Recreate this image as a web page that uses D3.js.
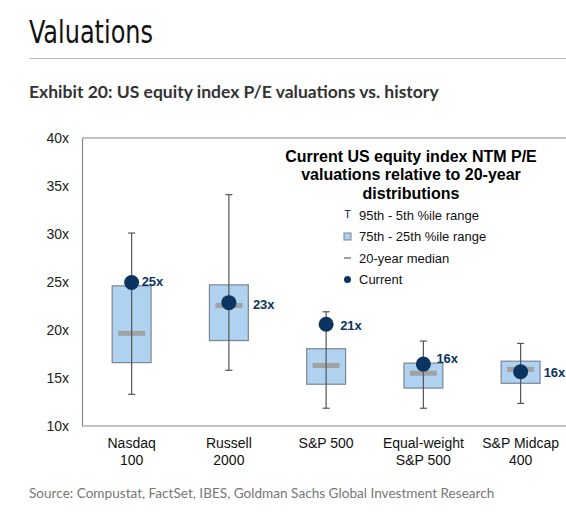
<!DOCTYPE html>
<html>
<head>
<meta charset="utf-8">
<script src="https://cdn.jsdelivr.net/npm/d3@7"></script>
<style>
  body { margin: 0; background: #fff; }
  svg { display: block; }
</style>
</head>
<body>
<svg id="chart" width="566" height="520"></svg>
<script>
// values (P/E multiples)
let categories = [['Nasdaq', '100'], ['Russell', '2000'], ['S&P 500'], ['Equal-weight', 'S&P 500'], ['S&P Midcap', '400']]
let p95 = [30.1, 34.1, 21.9, 18.85, 18.6]
let p5 = [13.3, 15.8, 11.85, 11.85, 12.35]
let p75 = [24.6, 24.7, 18.05, 16.55, 16.75]
let p25 = [16.6, 18.9, 14.35, 13.95, 14.45]
let medians = [19.65, 22.55, 16.3, 15.5, 15.9]
let current = [24.95, 22.85, 20.6, 16.45, 15.65]
let currentLabels = ['25x', '23x', '21x', '16x', '16x']
let yTicks = [10, 15, 20, 25, 30, 35, 40]

let legendTitle = ['Current US equity index NTM P/E', 'valuations relative to 20-year', 'distributions']
let legendItems = ['95th - 5th %ile range', '75th - 25th %ile range', '20-year median', 'Current']

let svg = d3.select('#chart')
let arial = 'Liberation Sans, Arial, sans-serif'
let navy = '#0c3461'

// header
svg.append('text')
    .attr('x', 29).attr('y', 43)
    .attr('font-family', 'DejaVu Sans Condensed, Liberation Sans, sans-serif')
    .attr('font-stretch', 'condensed')
    .attr('font-size', 32)
    .attr('textLength', 124)
    .attr('lengthAdjust', 'spacingAndGlyphs')
    .attr('fill', '#111')
    .text('Valuations')

svg.append('line')
    .attr('x1', 29).attr('x2', 566)
    .attr('y1', 58.5).attr('y2', 58.5)
    .attr('stroke', '#bdbdbd')

svg.append('text')
    .attr('x', 29).attr('y', 98)
    .attr('font-family', 'Lato, sans-serif')
    .attr('font-weight', 'bold')
    .attr('font-size', 17.5)
    .attr('fill', '#333')
    .text('Exhibit 20: US equity index P/E valuations vs. history')

svg.append('text')
    .attr('x', 29).attr('y', 498)
    .attr('font-family', 'Lato, sans-serif')
    .attr('font-size', 13.6)
    .attr('fill', '#777')
    .text('Source: Compustat, FactSet, IBES, Goldman Sachs Global Investment Research')

// scales
let y = d3.scaleLinear().domain([10, 40]).range([426, 138])
let x = d3.scaleBand()
    .domain(d3.range(categories.length))
    .range([83, 83 + 97.25 * categories.length])
let cx = (i) => x(i) + x.bandwidth() / 2
let boxW = x.step() * 0.4
let medW = 27

// frame
svg.append('path')
    .attr('d', `M580,${y(40)}H82.5V${y(10)}H580`)
    .attr('fill', 'none')
    .attr('stroke', '#8a8a8a')
    .attr('stroke-width', 1.2)

// y axis labels
let yAxis = svg.append('g')
    .attr('transform', 'translate(69,0)')
    .call(d3.axisLeft(y).tickValues(yTicks).tickSize(0).tickPadding(0).tickFormat((d) => d + 'x'))
yAxis.select('.domain').remove()
yAxis.selectAll('text')
    .attr('font-family', arial)
    .attr('font-size', 14)
    .attr('fill', '#222')

// category labels
let cats = svg.append('g')
categories.forEach((lines, i) => {
    lines.forEach((t, j) => {
        cats.append('text')
            .attr('x', cx(i))
            .attr('y', 448 + j * 17)
            .attr('text-anchor', 'middle')
            .attr('font-family', arial)
            .attr('font-size', 14)
            .attr('fill', '#111')
            .text(t)
    })
})

let idx = d3.range(categories.length)
let marks = svg.append('g')

// boxes (75th - 25th)
marks.selectAll('rect.box')
    .data(idx)
    .enter()
    .append('rect')
    .attr('class', 'box')
    .attr('x', (i) => cx(i) - boxW / 2)
    .attr('width', boxW)
    .attr('y', (i) => y(p75[i]))
    .attr('height', (i) => y(p25[i]) - y(p75[i]))
    .attr('fill', '#aed2f0')
    .attr('stroke', '#7d8590')
    .attr('stroke-width', 1.2)

// medians
marks.selectAll('line.median')
    .data(idx)
    .enter()
    .append('line')
    .attr('class', 'median')
    .attr('x1', (i) => cx(i) - medW / 2)
    .attr('x2', (i) => cx(i) + medW / 2)
    .attr('y1', (i) => y(medians[i]))
    .attr('y2', (i) => y(medians[i]))
    .attr('stroke', '#a2a2a2')
    .attr('stroke-width', 5)

// whiskers (95th - 5th)
let whisk = marks.selectAll('g.whisker')
    .data(idx)
    .enter()
    .append('g')
    .attr('class', 'whisker')
    .attr('stroke', '#555')
    .attr('stroke-width', 1.2)
whisk.append('line')
    .attr('x1', (i) => cx(i)).attr('x2', (i) => cx(i))
    .attr('y1', (i) => y(p95[i])).attr('y2', (i) => y(p5[i]))
whisk.append('line')
    .attr('x1', (i) => cx(i) - 3.5).attr('x2', (i) => cx(i) + 3.5)
    .attr('y1', (i) => y(p95[i])).attr('y2', (i) => y(p95[i]))
whisk.append('line')
    .attr('x1', (i) => cx(i) - 3.5).attr('x2', (i) => cx(i) + 3.5)
    .attr('y1', (i) => y(p5[i])).attr('y2', (i) => y(p5[i]))

// current dots
marks.selectAll('circle.current')
    .data(idx)
    .enter()
    .append('circle')
    .attr('class', 'current')
    .attr('cx', (i) => cx(i))
    .attr('cy', (i) => y(current[i]))
    .attr('r', 7.5)
    .attr('fill', navy)

// label placement tweaks, as in the original
let labelDx = [10, 24, 14, 13, 23]
let labelDy = [-1.5, 1.5, 1.5, -5.5, 0.5]
marks.selectAll('text.current')
    .data(idx)
    .enter()
    .append('text')
    .attr('class', 'current')
    .attr('x', (i) => cx(i) + labelDx[i])
    .attr('y', (i) => y(current[i]) + labelDy[i])
    .attr('dy', '0.35em')
    .attr('font-family', arial)
    .attr('font-weight', 'bold')
    .attr('font-size', 13)
    .attr('fill', navy)
    .text((i) => currentLabels[i])

// legend
let legend = svg.append('g')
legend.selectAll('text.title')
    .data(legendTitle)
    .enter()
    .append('text')
    .attr('class', 'title')
    .attr('x', 411)
    .attr('y', (d, i) => 162 + i * 18.3)
    .attr('text-anchor', 'middle')
    .attr('font-family', arial)
    .attr('font-weight', 'bold')
    .attr('font-size', 16)
    .attr('fill', '#000')
    .text((d) => d)

let rowY = (i) => 215 + i * 21.5
legend.selectAll('text.item')
    .data(legendItems)
    .enter()
    .append('text')
    .attr('class', 'item')
    .attr('x', 359)
    .attr('y', (d, i) => rowY(i))
    .attr('dy', '0.35em')
    .attr('font-family', arial)
    .attr('font-size', 13)
    .attr('fill', '#111')
    .text((d) => d)

// legend symbols
legend.append('text')
    .attr('x', 347.5).attr('y', rowY(0) - 1)
    .attr('text-anchor', 'middle')
    .attr('dy', '0.35em')
    .attr('font-family', arial)
    .attr('font-size', 11)
    .attr('fill', '#2a1030')
    .text('T')
legend.append('rect')
    .attr('x', 344).attr('y', rowY(1) - 3.5)
    .attr('width', 7).attr('height', 7)
    .attr('fill', '#aed2f0')
    .attr('stroke', '#7d8590')
legend.append('line')
    .attr('x1', 344).attr('x2', 351)
    .attr('y1', rowY(2)).attr('y2', rowY(2))
    .attr('stroke', '#a2a2a2')
    .attr('stroke-width', 2)
legend.append('circle')
    .attr('cx', 347.5).attr('cy', rowY(3))
    .attr('r', 3.5)
    .attr('fill', navy)
</script>
</body>
</html>
